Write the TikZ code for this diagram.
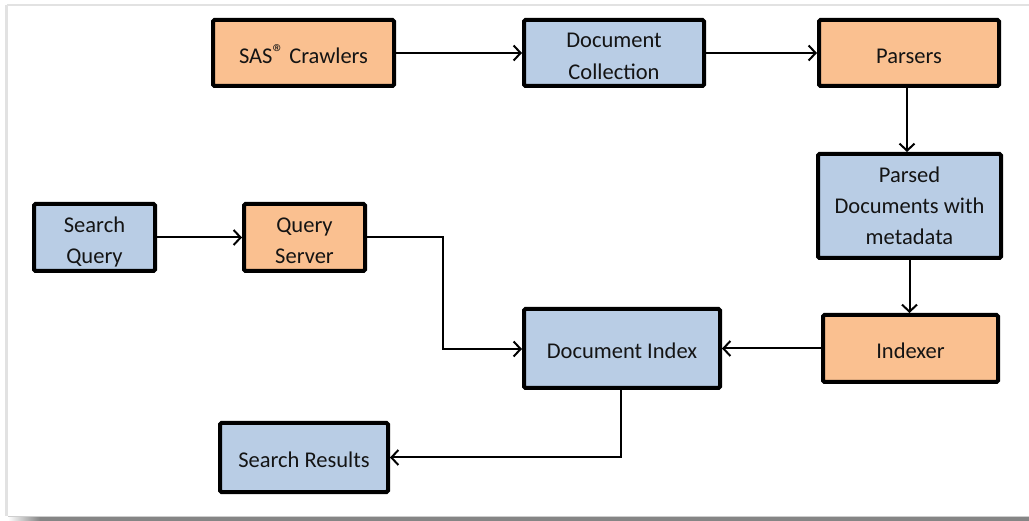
\documentclass[tikz,border=0pt]{standalone}
\usepackage{fontspec}
\setmainfont{Carlito}
\usetikzlibrary{arrows.meta}
\definecolor{boxorange}{HTML}{FAC090}
\definecolor{boxblue}{HTML}{B9CDE5}
\definecolor{framegray}{HTML}{E2E2E2}
\definecolor{shadowgray}{HTML}{858585}
\newcommand{\regmark}{{\fontsize{23}{23}\selectfont\raisebox{2.5pt}{®}}}
\newcommand{\topstrut}[1]{\rule{0pt}{#1pt}}
\tikzset{
  box/.style={draw=black, line width=4pt, rounded corners=1.5pt, align=center,
    inner sep=0pt, font=\fontsize{22.5}{31}\selectfont, text=black!92},
  orangebox/.style={box, fill=boxorange},
  bluebox/.style={box, fill=boxblue},
  flow/.style={line width=2pt, -{Straight Barb[length=7pt,width=15pt,line width=2pt]}}
}
\begin{document}
\begin{tikzpicture}[x=1pt, y=-1pt]
  \useasboundingbox (0,0) rectangle (1029,521);
  % panel frame and its shadow
  \draw[framegray, line width=2.5pt] (6.5,5) -- (1035,5);
  \draw[framegray, line width=2.5pt] (6.5,5) -- (6.5,516);
  \draw[framegray!80!gray, line width=1pt] (8,516.5) -- (1029,516.5);
  \shade[left color=white, right color=shadowgray] (8,517) rectangle (40,521);
  \fill[shadowgray] (40,517) rectangle (1029,521);

  % processing steps
  \node[orangebox, minimum width=181pt, minimum height=66pt] (crawl) at (303.5,53) {\topstrut{21}SAS\regmark{} Crawlers};
  \node[bluebox, minimum width=180pt, minimum height=66pt] (coll) at (614,53) {\topstrut{21}Document\\[1pt]Collection};
  \node[orangebox, minimum width=180pt, minimum height=66pt] (pars) at (909,53) {\topstrut{21}Parsers};
  \node[bluebox, minimum width=183pt, minimum height=104pt] (parsed) at (909.5,206) {Parsed\\Documents with\\metadata};
  \node[orangebox, minimum width=175pt, minimum height=67pt] (idxr) at (910.5,348.5) {\topstrut{21}Indexer};
  \node[bluebox, minimum width=196pt, minimum height=79pt] (docidx) at (622,348.5) {\topstrut{21}Document Index};
  \node[bluebox, minimum width=121pt, minimum height=67pt] (squery) at (94.5,237.5) {\topstrut{24}Search\\Query};
  \node[orangebox, minimum width=121pt, minimum height=67pt] (qserver) at (304.5,237.5) {\topstrut{21}Query\\Server};
  \node[bluebox, minimum width=168pt, minimum height=69pt] (results) at (304,457.5) {\topstrut{21}Search Results};

  % connectors
  \coordinate (qturn) at (443,237.5);
  \coordinate (qdown) at (443,349);
  \coordinate (rturn) at (621,457.5);
  \draw[flow] (crawl.east) -- (coll.west);
  \draw[flow] (coll.east) -- (pars.west);
  \draw[flow] ([xshift=-2pt]pars.south) -- ([xshift=-2.5pt]parsed.north);
  \draw[flow] (parsed.south) -- (parsed.south |- idxr.north);
  \draw[flow] (idxr.west) -- (idxr.west -| docidx.east);
  \draw[flow] (squery.east) -- (qserver.west);
  \draw[flow] (qserver.east) -- (qturn) -- (qdown) -- (qdown -| docidx.west);
  \draw[flow] (rturn |- docidx.south) -- (rturn) -- (results.east);
\end{tikzpicture}
\end{document}
